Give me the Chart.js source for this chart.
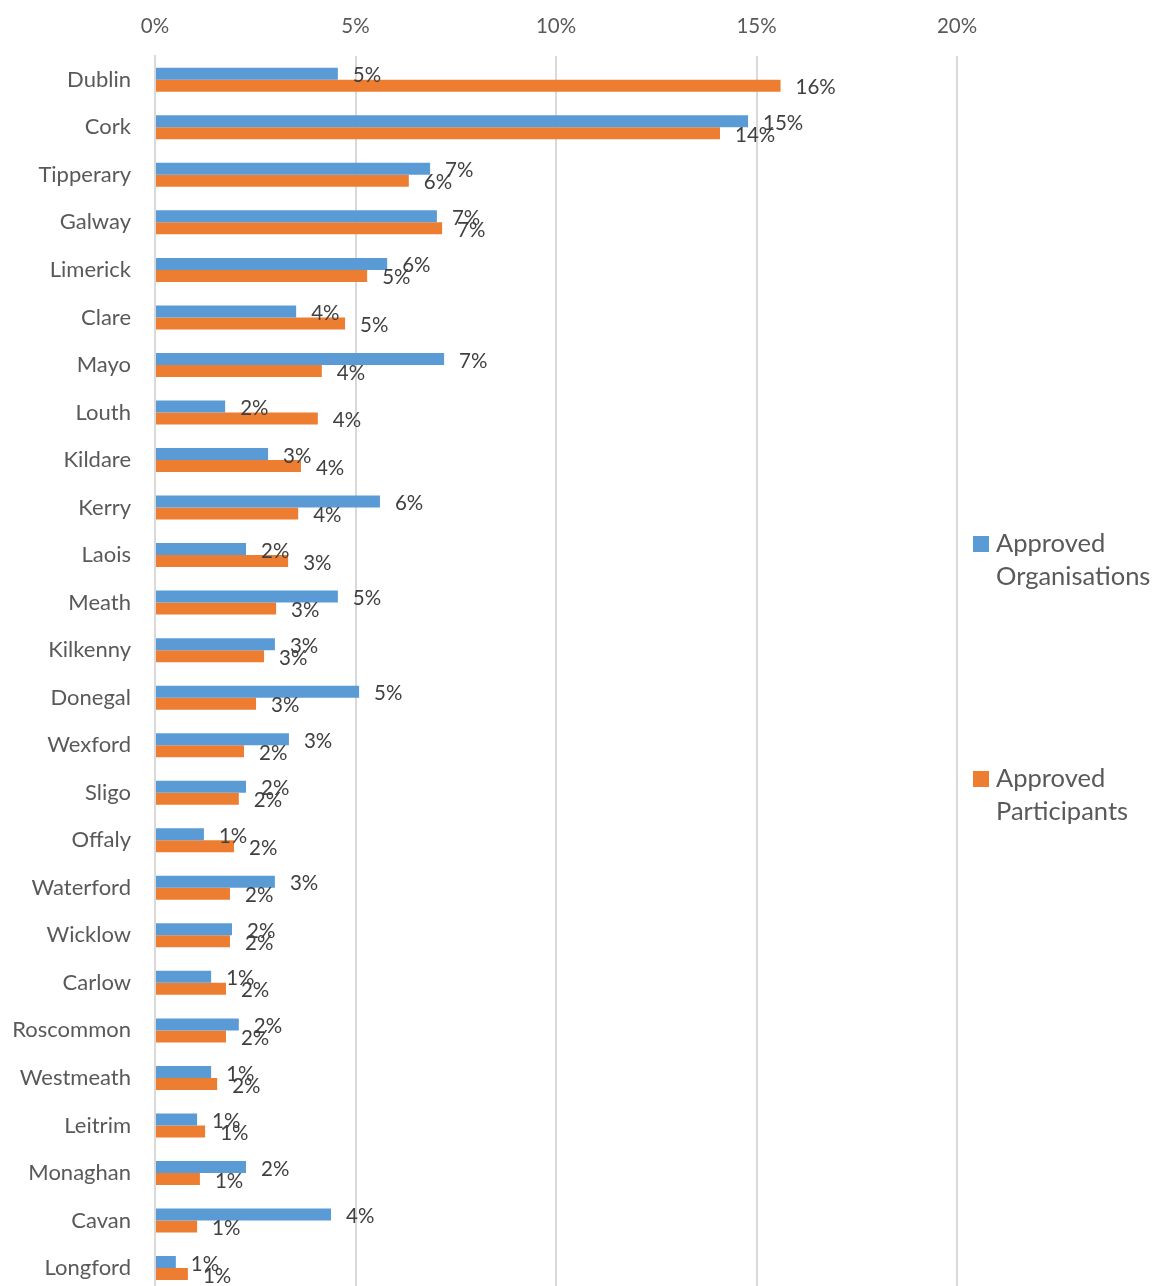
<!DOCTYPE html>
<html>
<head>
<meta charset="utf-8">
<script src="https://cdn.jsdelivr.net/npm/chart.js@4.4.1/dist/chart.umd.min.js"></script>
<style>
  html, body { margin: 0; padding: 0; background: #fff; overflow: hidden; }
  canvas { display: block; }
</style>
</head>
<body>
<canvas id="countyChart" width="1157" height="1329"></canvas>
<script>
// Dados do gráfico (percentuais por condado)
const counties = ['Dublin', 'Cork', 'Tipperary', 'Galway', 'Limerick', 'Clare', 'Mayo', 'Louth',
  'Kildare', 'Kerry', 'Laois', 'Meath', 'Kilkenny', 'Donegal', 'Wexford', 'Sligo', 'Offaly',
  'Waterford', 'Wicklow', 'Carlow', 'Roscommon', 'Westmeath', 'Leitrim', 'Monaghan', 'Cavan', 'Longford'];
const organisations = [4.56, 14.79, 6.86, 7.03, 5.79, 3.52, 7.21, 1.75, 2.82, 5.61, 2.27, 4.56, 2.99,
  5.09, 3.34, 2.27, 1.22, 2.99, 1.92, 1.40, 2.09, 1.40, 1.05, 2.27, 4.39, 0.52];
const participants = [15.6, 14.09, 6.33, 7.16, 5.29, 4.74, 4.16, 4.06, 3.64, 3.57, 3.32, 3.02, 2.72,
  2.52, 2.22, 2.09, 1.97, 1.87, 1.87, 1.77, 1.77, 1.55, 1.25, 1.12, 1.05, 0.82];
const seriesNames = [['Approved', 'Organisations'], ['Approved', 'Participants']];
const xTicks = [0, 5, 10, 15, 20];

const FONT = 'Lato, "Open Sans", sans-serif';

// Rótulos de dados no fim de cada barra
const barLabels = {
  id: 'barLabels',
  afterDatasetsDraw(chart) {
    const ctx = chart.ctx;
    ctx.save();
    ctx.font = '20.5px ' + FONT;
    ctx.fillStyle = '#404040';
    ctx.textAlign = 'left';
    ctx.textBaseline = 'middle';
    chart.data.datasets.forEach((ds, i) => {
      chart.getDatasetMeta(i).data.forEach((bar, j) => {
        ctx.fillText(Math.round(ds.data[j]) + '%', bar.x + 15, bar.y + 2);
      });
    });
    ctx.restore();
  }
};

// Legenda à direita, em duas linhas
const sideLegend = {
  id: 'sideLegend',
  afterDraw(chart) {
    const ctx = chart.ctx;
    const x = chart.chartArea.right + 16;
    const tops = [536, 771];
    ctx.save();
    ctx.font = '25.5px ' + FONT;
    ctx.textBaseline = 'middle';
    ctx.textAlign = 'left';
    chart.data.datasets.forEach((ds, i) => {
      ctx.fillStyle = ds.backgroundColor;
      ctx.fillRect(x, tops[i], 16, 16);
      ctx.fillStyle = '#595959';
      seriesNames[i].forEach((line, k) => {
        ctx.fillText(line, x + 23, tops[i] + 8 + k * 33);
      });
    });
    ctx.restore();
  }
};

window.onload = function () {
  const ctx = document.getElementById('countyChart').getContext('2d');
  new Chart(ctx, {
    type: 'bar',
    data: {
      labels: counties,
      datasets: [{
        label: seriesNames[0].join(' '),
        data: organisations,
        backgroundColor: '#5B9BD5'
      }, {
        label: seriesNames[1].join(' '),
        data: participants,
        backgroundColor: '#ED7D31'
      }]
    },
    options: {
      indexAxis: 'y',
      responsive: false,
      maintainAspectRatio: false,
      animation: false,
      events: [],
      layout: { padding: { left: 0, right: 200, top: 0, bottom: 0 } },
      datasets: {
        bar: { categoryPercentage: 0.505, barPercentage: 1 }
      },
      plugins: {
        legend: { display: false },
        tooltip: { enabled: false }
      },
      scales: {
        x: {
          position: 'top',
          min: 0,
          max: 20,
          afterBuildTicks: s => { s.ticks = xTicks.map(v => ({ value: v })); },
          afterFit: s => { s.height = 56; },
          grid: { color: '#D9D9D9', lineWidth: 2, drawTicks: false },
          border: { display: false },
          ticks: {
            padding: 17,
            color: '#595959',
            font: { family: FONT, size: 20.5 },
            callback: v => v + '%'
          }
        },
        y: {
          afterFit: s => { s.width = 155; },
          grid: { display: false, drawTicks: false },
          border: { display: true, color: '#D9D9D9', width: 2 },
          ticks: {
            padding: 24,
            color: '#595959',
            font: { family: FONT, size: 22 }
          }
        }
      }
    },
    plugins: [barLabels, sideLegend]
  });
};
</script>
</body>
</html>
